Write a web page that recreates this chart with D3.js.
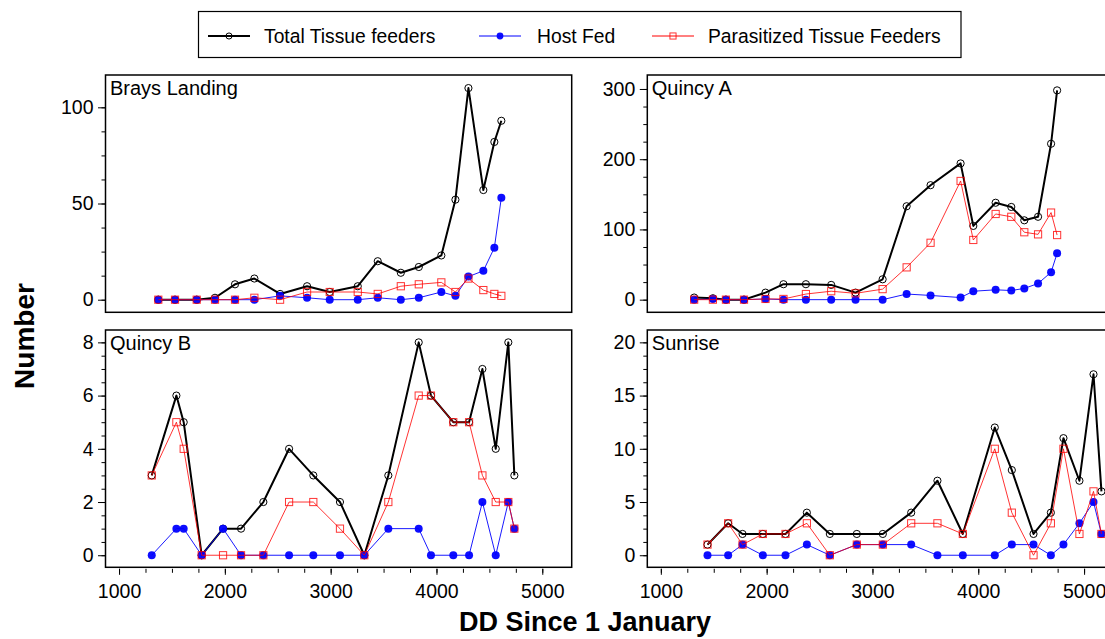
<!DOCTYPE html>
<html lang="en">
	<head>
		<meta charset="utf-8">
		<title>Tissue feeders by site</title>
		<script type="text/javascript" src="https://d3js.org/d3.v7.min.js"></script>
		<style>
			body { margin: 0; background: #fff; }
			text { font-family: "Liberation Sans", Arial, Helvetica, sans-serif; fill: #000; }
			.tick text { font-size: 19.5px; }
			.tick line { stroke: #000; stroke-width: 1; }
			.panel_label { font-size: 20px; }
			.axis_title { font-size: 28px; font-weight: bold; }
			.legend_labels { font-size: 19.3px; }
		</style>
	</head>
	<body>
		<script type="text/javascript">

			// ---------------- data ----------------
			var seriesNames = ["Total Tissue feeders", "Host Fed", "Parasitized Tissue Feeders"];
			var xTicks = [1000, 2000, 3000, 4000, 5000];

			// Brays Landing
			var braysDD    = [1371, 1529, 1734, 1907, 2096, 2279, 2522, 2777, 2991, 3256, 3445, 3663, 3833, 4046, 4179, 4302, 4443, 4547, 4613];
			var braysTotal = [0, 0, 0, 1, 8, 11, 3, 7, 4, 7, 20, 14, 17, 23, 52, 110, 57, 82, 93];
			var braysHost  = [0, 0, 0, 0, 0, 0, 2, 1, 0, 0, 1, 0, 1, 4, 2, 12, 15, 27, 53];
			var braysPara  = [0, 0, 0, 0, 0, 1, 0, 4, 4, 4, 3, 7, 8, 9, 4, 11, 5, 3, 2];
			var braysTicks = [0, 50, 100];

			// Quincy A
			var qaDD    = [1315, 1492, 1615, 1786, 1989, 2159, 2371, 2610, 2840, 3096, 3323, 3549, 3833, 3953, 4164, 4312, 4435, 4565, 4688, 4745];
			var qaTotal = [3, 2, 0, 0, 10, 22, 22, 21, 10, 29, 133, 163, 194, 105, 138, 132, 113, 118, 222, 298];
			var qaHost  = [0, 1, 0, 0, 1, 0, 0, 0, 0, 0, 8, 6, 3, 12, 14, 13, 16, 23, 39, 66];
			var qaPara  = [0, 0, 0, 0, 1, 1, 8, 12, 9, 15, 46, 81, 169, 85, 122, 118, 96, 93, 124, 92];
			var qaTicks = [0, 100, 200, 300];

			// Quincy B
			var qbDD    = [1309, 1542, 1611, 1781, 1983, 2153, 2364, 2607, 2836, 3088, 3318, 3545, 3832, 3948, 4159, 4308, 4434, 4560, 4679, 4736];
			var qbTotal = [3, 6, 5, 0, 1, 1, 2, 4, 3, 2, 0, 3, 8, 6, 5, 5, 7, 4, 8, 3];
			var qbHost  = [0, 1, 1, 0, 1, 0, 0, 0, 0, 0, 0, 1, 1, 0, 0, 0, 2, 0, 2, 1];
			var qbPara  = [3, 5, 4, 0, 0, 0, 0, 2, 2, 1, 0, 2, 6, 6, 5, 5, 3, 2, 2, 1];
			var qbTicks = [0, 2, 4, 6, 8];

			// Sunrise
			var srDD    = [1441, 1636, 1772, 1964, 2178, 2380, 2597, 2852, 3098, 3366, 3614, 3854, 4156, 4317, 4522, 4686, 4805, 4956, 5089, 5164];
			var srTotal = [1, 3, 2, 2, 2, 4, 2, 2, 2, 4, 7, 2, 12, 8, 2, 4, 11, 7, 17, 6];
			var srHost  = [0, 0, 1, 0, 0, 1, 0, 1, 1, 1, 0, 0, 0, 1, 1, 0, 1, 3, 5, 2];
			var srPara  = [1, 3, 1, 2, 2, 3, 0, 1, 1, 3, 3, 2, 10, 4, 0, 3, 10, 2, 6, 2];
			var srTicks = [0, 5, 10, 15, 20];

			// ---------------- layout ----------------
			var W = 1105, H = 639;
			var colX = [105.5, 647.3], boxW = 466.2;
			var rowY = [75, 330], boxH = 237.3;
			var xDomain = [872, 5278];

			var colors = ["#000000", "#0000ff", "#ff0000"];
			var widths = [2, 1, 1];
			var opac = [1, 0.9, 0.8];

			var panels = [
				{name: "Brays Landing", col: 0, row: 0, dd: braysDD, ys: [braysTotal, braysHost, braysPara], ticks: braysTicks, minor: 12.5, dom: [-6.55, 116.8]},
				{name: "Quincy A", col: 1, row: 0, dd: qaDD, ys: [qaTotal, qaHost, qaPara], ticks: qaTicks, minor: 25, dom: [-18, 319.9]},
				{name: "Quincy B", col: 0, row: 1, dd: qbDD, ys: [qbTotal, qbHost, qbPara], ticks: qbTicks, minor: 0.5, dom: [-0.453, 8.465]},
				{name: "Sunrise", col: 1, row: 1, dd: srDD, ys: [srTotal, srHost, srPara], ticks: srTicks, minor: 1.25, dom: [-1.133, 21.16]}
			];

			var svg = d3.select("body")
						.append("svg")
						.attr("width", W)
						.attr("height", H);

			// draw a marker of series i at (x, y); s scales it (legend markers are smaller)
			function marker(g, i, x, y, s) {
				if (i == 0) {
					g.append("circle").attr("cx", x).attr("cy", y).attr("r", 3.6 * s)
						.attr("fill", "none").attr("stroke", "#000").attr("stroke-width", 1);
				} else if (i == 1) {
					g.append("circle").attr("cx", x).attr("cy", y).attr("r", 4 * s)
						.attr("fill", "#0000ff").attr("fill-opacity", 0.95);
				} else {
					var h = 3.6 * s;
					g.append("rect").attr("x", x - h).attr("y", y - h)
						.attr("width", 2 * h).attr("height", 2 * h)
						.attr("fill", "none").attr("stroke", "#ff0000")
						.attr("stroke-opacity", 0.8).attr("stroke-width", 1);
				}
			}

			panels.forEach(function(p) {
				var x0 = colX[p.col], y0 = rowY[p.row];

				var xScale = d3.scaleLinear().domain(xDomain).range([x0, x0 + boxW]);
				var yScale = d3.scaleLinear().domain(p.dom).range([y0 + boxH, y0]);

				var yMinor = d3.range(p.ticks[0], p.ticks[p.ticks.length - 1] + p.minor / 2, p.minor);

				// y axis: minor then major ticks
				svg.append("g")
					.attr("transform", "translate(" + x0 + ",0)")
					.call(d3.axisLeft(yScale).tickValues(yMinor).tickSize(4).tickFormat(""))
					.call(function(g) { g.select(".domain").remove(); });
				svg.append("g")
					.attr("transform", "translate(" + x0 + ",0)")
					.call(d3.axisLeft(yScale).tickValues(p.ticks).tickSize(7.5).tickPadding(4.5).tickFormat(d3.format("d")))
					.call(function(g) { g.select(".domain").remove(); });

				// x axis only for the bottom row
				if (p.row == 1) {
					var xMinor = d3.range(1000, 5001, 250);
					var ax = y0 + boxH + 1.5;
					svg.append("g")
						.attr("transform", "translate(0," + ax + ")")
						.call(d3.axisBottom(xScale).tickValues(xMinor).tickSize(4).tickFormat(""))
						.call(function(g) { g.select(".domain").remove(); });
					svg.append("g")
						.attr("transform", "translate(0," + ax + ")")
						.call(d3.axisBottom(xScale).tickValues(xTicks).tickSize(6).tickPadding(9).tickFormat(d3.format("d")))
						.call(function(g) { g.select(".domain").remove(); });
				}

				// series: total, host, parasitized
				var clipId = "clip" + p.col + p.row;
				svg.append("clipPath").attr("id", clipId)
					.append("rect").attr("x", x0).attr("y", y0).attr("width", boxW).attr("height", boxH);
				var plot = svg.append("g").attr("clip-path", "url(#" + clipId + ")");

				p.ys.forEach(function(vals, i) {
					var pts = p.dd.map(function(d, k) { return [d, vals[k]]; });
					var line = d3.line()
						.x(function(d) { return xScale(d[0]); })
						.y(function(d) { return yScale(d[1]); });
					plot.append("path")
						.attr("d", line(pts))
						.attr("fill", "none")
						.attr("stroke", colors[i])
						.attr("stroke-width", widths[i])
						.attr("stroke-opacity", opac[i])
						.attr("stroke-linejoin", "round");
					var mg = plot.append("g");
					pts.forEach(function(d) { marker(mg, i, xScale(d[0]), yScale(d[1]), 1); });
				});

				// frame
				svg.append("rect")
					.attr("x", x0).attr("y", y0)
					.attr("width", boxW).attr("height", boxH)
					.attr("fill", "none").attr("stroke", "#000").attr("stroke-width", 1.5);

				svg.append("text")
					.attr("class", "panel_label")
					.attr("x", x0 + 4.5)
					.attr("y", y0 + 20)
					.text(p.name);
			});

			// axis titles
			svg.append("text")
				.attr("class", "axis_title")
				.attr("transform", "translate(34,336) rotate(-90)")
				.attr("text-anchor", "middle")
				.text("Number");

			svg.append("text")
				.attr("class", "axis_title")
				.attr("x", 585)
				.attr("y", 631)
				.attr("text-anchor", "middle")
				.style("font-size", "27px")
				.text("DD Since 1 January");

			// ---------------- legend ----------------
			var legendX = [208, 479, 652], legendLabelX = [264, 537, 708], legendY = 36;
			svg.append("rect")
				.attr("x", 198.5).attr("y", 11.5)
				.attr("width", 762.5).attr("height", 46)
				.attr("fill", "#fff").attr("stroke", "#000").attr("stroke-width", 1.2);

			seriesNames.forEach(function(name, i) {
				svg.append("line")
					.attr("x1", legendX[i]).attr("x2", legendX[i] + 42)
					.attr("y1", legendY).attr("y2", legendY)
					.attr("stroke", colors[i]).attr("stroke-width", widths[i]);
				var g = svg.append("g");
				marker(g, i, legendX[i] + 21, legendY, 0.85);
				svg.append("text")
					.attr("class", "legend_labels")
					.attr("x", legendLabelX[i])
					.attr("y", legendY + 7)
					.text(name);
			});

		</script>
	</body>
</html>
